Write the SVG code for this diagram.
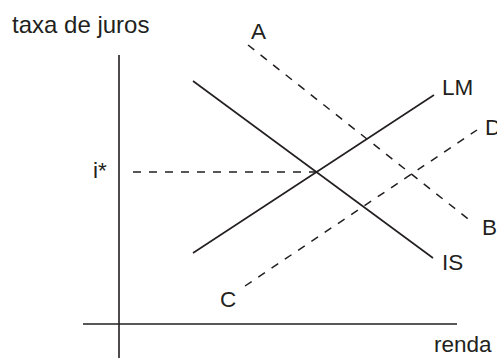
<svg xmlns="http://www.w3.org/2000/svg" width="497" height="361" viewBox="0 0 497 361">
<style>
.ln{stroke:#231f20;stroke-width:1.6;fill:none}
.ds{stroke:#231f20;stroke-width:1.5;fill:none;stroke-dasharray:8 8}
text{font-family:"Liberation Sans",Arial,sans-serif;font-size:22.5px;fill:#231f20}
</style>
<rect width="497" height="361" fill="#fff"/>
<g id="axes">
<line class="ln" x1="119" y1="55" x2="119" y2="358"/>
<line class="ln" x1="83" y1="324" x2="457" y2="324"/>
</g>
<g id="connectors">
<line id="IS-line" class="ln" x1="193" y1="81" x2="433" y2="258"/>
<line id="LM-line" class="ln" x1="193" y1="253" x2="434" y2="95"/>
<line id="istar-line" class="ds" x1="133" y1="172" x2="317" y2="172"/>
<line id="AB-line" class="ds" x1="248" y1="45" x2="472" y2="222"/>
<line id="CD-line" class="ds" x1="245" y1="286" x2="477" y2="130"/>
</g>
<g id="labels">
<text id="y-label" x="12" y="33" style="font-size:24px">taxa de juros</text>
<text id="x-label" x="434" y="352">renda</text>
<text id="istar" x="93" y="178">i*</text>
<text id="A" x="251" y="39">A</text>
<text id="B" x="482" y="235">B</text>
<text id="C" x="220" y="307">C</text>
<text id="D" x="485" y="135">D</text>
<text id="LM" x="442" y="95">LM</text>
<text id="IS" x="442" y="270">IS</text>
</g>
</svg>
